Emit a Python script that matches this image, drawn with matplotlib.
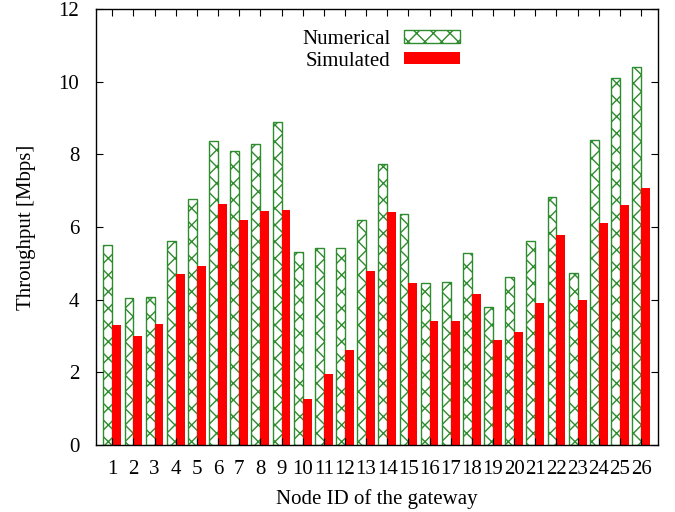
import numpy as np
import matplotlib
matplotlib.use("Agg")
import matplotlib.pyplot as plt

plt.rcParams['font.family'] = ['Liberation Serif', 'DejaVu Serif']
plt.rcParams['hatch.color'] = '#0d6b0d'
plt.rcParams['hatch.linewidth'] = 1.0

# --- data ---
node_ids = [str(i) for i in range(1, 27)]
numerical = [5.50, 4.04, 4.07, 5.61, 6.77, 8.36, 8.08, 8.28, 8.89, 5.30,
             5.41, 5.43, 6.19, 7.74, 6.35, 4.45, 4.48, 5.28, 3.79, 4.63,
             5.61, 6.82, 4.73, 8.39, 10.10, 10.41]
simulated = [3.30, 3.00, 3.33, 4.71, 4.93, 6.63, 6.20, 6.44, 6.46, 1.27,
             1.96, 2.62, 4.80, 6.41, 4.45, 3.40, 3.42, 4.15, 2.90, 3.10,
             3.91, 5.78, 4.00, 6.11, 6.61, 7.07]
yticks = [0, 2, 4, 6, 8, 10, 12]

fs = 15

fig = plt.figure(figsize=(6.75, 5.12), dpi=100)
ax = fig.add_axes([96/675, 67/512, 562/675, 436/512])

x = np.arange(1, len(node_ids) + 1)
w = 0.42
ax.bar(x - w/2, numerical, w, color='white', edgecolor='#2e8b2e', hatch='xx',
       linewidth=1.0, label='Numerical')
ax.bar(x + w/2, simulated, w, color='#ff0000', edgecolor='#ff0000',
       linewidth=0, label='Simulated')

ax.set_xlim(0.23, 26.80)
ax.set_ylim(0, 12)
ax.set_xticks(x)
ax.set_xticklabels(node_ids)
ax.set_yticks(yticks)
ax.tick_params(direction='in', top=True, right=True, labelsize=fs, length=5)
ax.tick_params(axis='x', pad=11)
ax.tick_params(axis='y', pad=12)
for s in ax.spines.values():
    s.set_linewidth(1.0)

ax.set_xlabel('Node ID of the gateway', fontsize=fs, labelpad=7)
ax.set_ylabel('Throughput [Mbps]', fontsize=fs, labelpad=16)

leg = ax.legend(loc='upper right', bbox_to_anchor=(364/562, 1 - 21/436),
                frameon=False, markerfirst=False, fontsize=fs,
                handlelength=56/20.8, handleheight=11/20.8,
                labelspacing=0.12, handletextpad=0.65,
                borderpad=0, borderaxespad=0)
for t in leg.get_texts():
    t.set_ha('right')

fig.savefig('out.png', dpi=100)
